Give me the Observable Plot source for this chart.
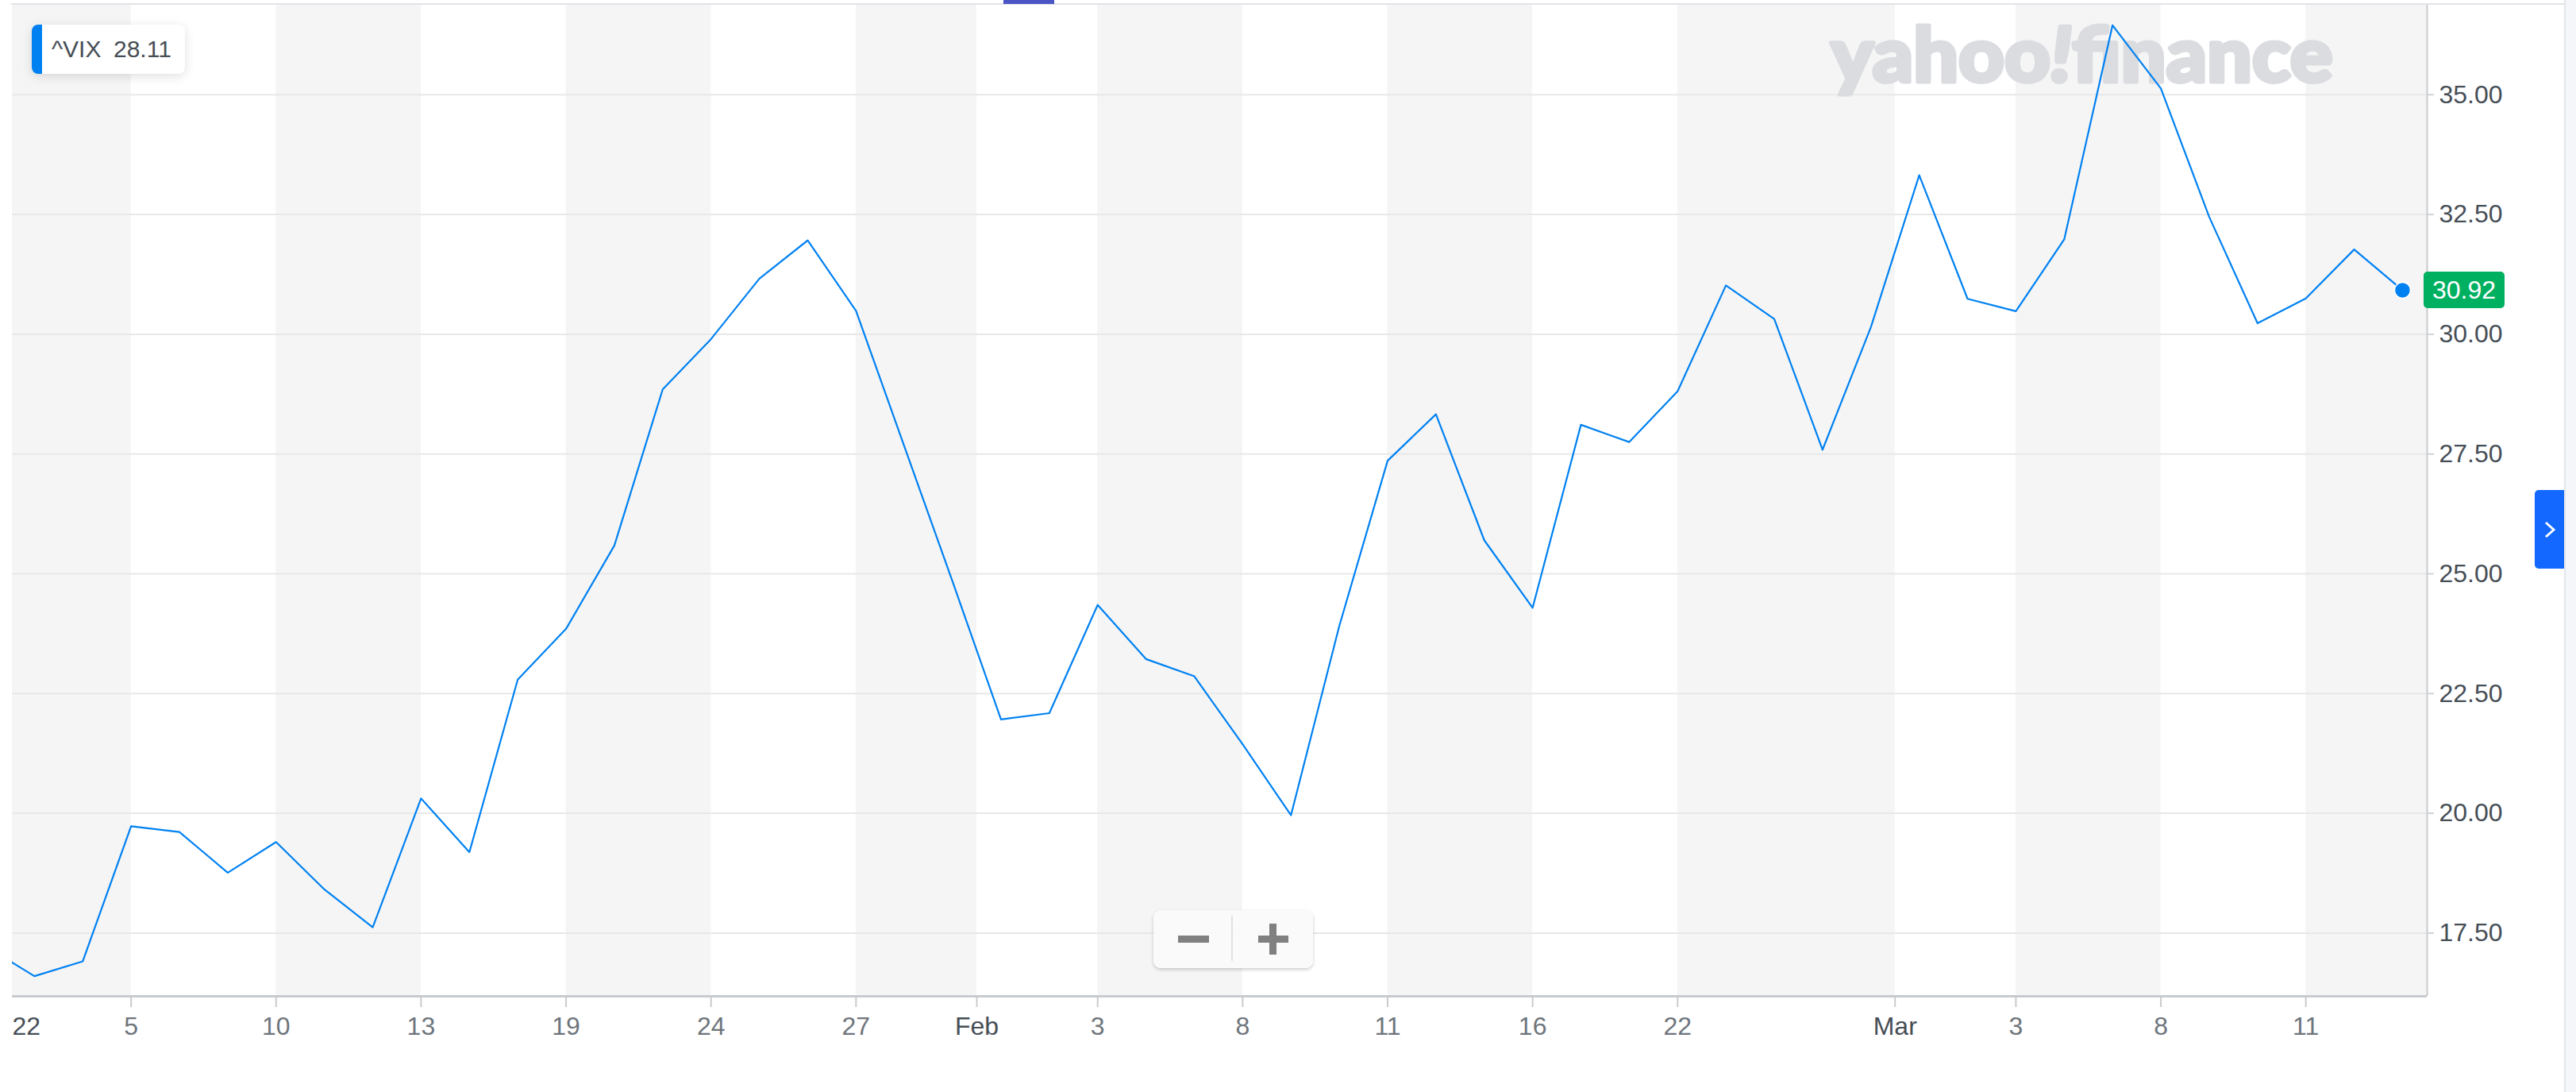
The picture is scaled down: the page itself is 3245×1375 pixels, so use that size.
<!DOCTYPE html>
<html>
<head>
<meta charset="utf-8">
<script src="https://cdn.jsdelivr.net/npm/d3@7"></script>
<script src="https://cdn.jsdelivr.net/npm/@observablehq/plot@0.6"></script>
<style>
html, body { margin: 0; padding: 0; background: #fff; }
#wrap { position: relative; width: 3245px; height: 1375px; overflow: hidden; font-family: "Liberation Sans", Arial, sans-serif; }
#wrap svg { position: absolute; left: 0; top: 0; }
.ov { position: absolute; }
#topline { left: 14px; top: 4px; width: 3231px; height: 2px; background: #e1e3e7; }
#tab { left: 1264px; top: 0; width: 64px; height: 5px; background: #4a54c4; }
#panel { left: 3230px; top: 0; width: 15px; height: 1375px; background: #f4f6f9; border-left: 2px solid #e3e6ea; box-sizing: border-box; }
#btn { left: 3193px; top: 617px; width: 37px; height: 99px; background: #1268ff; border-radius: 5px 0 0 5px; }
#legend { left: 40px; top: 31px; width: 193px; height: 62px; background: #fff; border-radius: 8px; box-shadow: 0 3px 14px rgba(0,0,0,0.13); overflow: hidden; }
#legend .bar { position: absolute; left: 0; top: 0; width: 13px; height: 62px; background: #0081f2; }
#legend .sym, #legend .val { position: absolute; top: 0; line-height: 62px; font-size: 30px; color: #464e56; }
#legend .sym { left: 25px; }
#legend .val { left: 103px; }
#zoom { left: 1453px; top: 1146px; width: 201px; height: 73px; background: rgba(250,250,250,0.92); border-radius: 9px; box-shadow: 0 2px 4px rgba(0,0,0,0.2); }
#zoom div { position: absolute; background: #808080; }
#badge { left: 3053px; width: 102px; height: 46px; background: #00b061; border-radius: 5px; color: #fff; font-size: 32px; line-height: 46px; text-align: center; }
</style>
</head>
<body>
<div id="wrap"></div>
<script>
// ---- data ----
const dates = [
  "2021-12-31","2022-01-03","2022-01-04","2022-01-05","2022-01-06","2022-01-07",
  "2022-01-10","2022-01-11","2022-01-12","2022-01-13","2022-01-14","2022-01-18",
  "2022-01-19","2022-01-20","2022-01-21","2022-01-24","2022-01-25","2022-01-26",
  "2022-01-27","2022-01-28","2022-01-31","2022-02-01","2022-02-02","2022-02-03",
  "2022-02-04","2022-02-07","2022-02-08","2022-02-09","2022-02-10","2022-02-11",
  "2022-02-14","2022-02-15","2022-02-16","2022-02-17","2022-02-18","2022-02-22",
  "2022-02-23","2022-02-24","2022-02-25","2022-02-28","2022-03-01","2022-03-02",
  "2022-03-03","2022-03-04","2022-03-07","2022-03-08","2022-03-09","2022-03-10",
  "2022-03-11","2022-03-14","2022-03-15"
];
const vix = [
  17.22, 16.60, 16.91, 19.73, 19.61, 18.76,
  19.40, 18.41, 17.62, 20.31, 19.19, 22.79,
  23.85, 25.59, 28.85, 29.90, 31.16, 31.96,
  30.49, 27.66, 24.83, 21.96, 22.09, 24.35,
  23.22, 22.86, 21.44, 19.96, 23.91, 27.36,
  28.33, 25.70, 24.29, 28.11, 27.75, 28.81,
  31.02, 30.32, 27.59, 30.15, 33.32, 30.74,
  30.48, 31.98, 36.45, 35.13, 32.45, 30.23,
  30.75, 31.77, 30.92
];
// x tick positions are trading-day indices (month/year labels sit between days)
const tickPos    = [0.5, 3, 6, 9, 12, 15, 18, 20.5, 23, 26, 29, 32, 35, 39.5, 42, 45, 48];
const tickLabels = ["22","5","10","13","19","24","27","Feb","3","8","11","16","22","Mar","3","8","11"];
const tickKinds  = ["year","day","day","day","day","day","day","month","day","day","day","day","day","month","day","day","day"];
const yTicks = [17.5, 20, 22.5, 25, 27.5, 30, 32.5, 35];
const xDomain = [0.542, 50.51];
const yDomain = [16.18, 36.87];
const seriesName = "^VIX";
const hoverDate = "2022-02-17";
const watermark = "yahoo!finance";

// ---- derived tables ----
const data = vix.map((v, i) => ({i, v, date: dates[i]}));
const last = data[data.length - 1];
const labelOf = new Map(tickPos.map((p, k) => [p, tickLabels[k]]));
const dayTicks = tickPos.filter((p, k) => tickKinds[k] === "day");
const monthTicks = tickPos.filter((p, k) => tickKinds[k] === "month");
const yearTicks = tickPos.filter((p, k) => tickKinds[k] === "year");
const bounds = [xDomain[0], ...tickPos.filter(p => p > xDomain[0]), xDomain[1]];
const bands = [];
for (let k = 0; k < bounds.length - 1; k += 2) bands.push({x1: bounds[k], x2: bounds[k + 1]});

const font = "'Liberation Sans', Arial, sans-serif";
const chart = Plot.plot({
  width: 3245,
  height: 1375,
  marginLeft: 15,
  marginRight: 188,
  marginTop: 6,
  marginBottom: 121,
  style: {fontFamily: font, fontSize: "32px", background: "transparent", overflow: "visible"},
  x: {type: "linear", domain: xDomain},
  y: {type: "linear", domain: yDomain},
  marks: [
    Plot.rect(bands, {x1: "x1", x2: "x2", fill: "#f5f5f5"}),
    Plot.gridY(yTicks, {stroke: "#e8e8e8", strokeOpacity: 1, strokeWidth: 2}),
    Plot.text([watermark], {
      text: d => d, frameAnchor: "top-right", dx: -119, dy: 66,
      textAnchor: "end", lineAnchor: "middle",
      fill: "#dadce0", stroke: "#dadce0", strokeWidth: 5, strokeLinejoin: "round",
      fontSize: 96, fontWeight: 900, fontFamily: "Lato, 'Open Sans', sans-serif"
    }),
    Plot.line(data, {x: "i", y: "v", stroke: "#0081f2", strokeWidth: 2.2, clip: true}),
    Plot.ruleY([yDomain[0]], {stroke: "#c8cbce", strokeWidth: 3}),
    Plot.ruleX([xDomain[1]], {stroke: "#c8cbce", strokeWidth: 2}),
    Plot.dot([last], {x: "i", y: "v", r: 10, fill: "#0081f2", stroke: "#fff", strokeWidth: 1.5}),
    Plot.axisY(yTicks, {
      anchor: "right", tickSize: 8, tickPadding: 7, tickFormat: d3.format(".2f"),
      fill: "#464e56", stroke: "#d0d3d6", strokeWidth: 2, label: null
    }),
    Plot.axisX(dayTicks, {
      anchor: "bottom", tickSize: 14, tickPadding: 12, tickFormat: d => labelOf.get(d),
      fill: "#6e757c", stroke: "#c8cbce", strokeWidth: 2, label: null
    }),
    Plot.axisX(monthTicks, {
      anchor: "bottom", tickSize: 14, tickPadding: 12, tickFormat: d => labelOf.get(d),
      fill: "#464e56", stroke: "#c8cbce", strokeWidth: 2, label: null
    }),
    Plot.axisX(yearTicks.map(p => Math.max(p, xDomain[0])), {
      anchor: "bottom", tickSize: 0, tickPadding: 26, textAnchor: "start",
      tickFormat: () => tickLabels[tickKinds.indexOf("year")],
      fill: "#464e56", label: null
    })
  ]
});

const wrap = document.getElementById("wrap");
wrap.appendChild(chart);

// stretch the watermark to the logo width; slant the "!"
for (const t of chart.querySelectorAll("text")) {
  if (t.textContent === watermark) {
    const k = watermark.indexOf("!");
    t.textContent = "";
    const parts = [[watermark.slice(0, k), null], ["!", "italic"], [watermark.slice(k + 1), null]];
    for (const [s, st] of parts) {
      const sp = document.createElementNS("http://www.w3.org/2000/svg", "tspan");
      sp.textContent = s;
      if (st) sp.setAttribute("font-style", st);
      t.appendChild(sp);
    }
    t.setAttribute("textLength", "632");
    t.setAttribute("lengthAdjust", "spacingAndGlyphs");
  }
}

function ov(id, html) {
  const d = document.createElement("div");
  d.className = "ov"; d.id = id;
  if (html) d.innerHTML = html;
  wrap.appendChild(d);
  return d;
}
ov("topline");
ov("tab");
ov("panel");
ov("btn", '<svg width="37" height="99" style="position:absolute;left:0;top:0"><polyline points="14,41 24,50 14,59" fill="none" stroke="#fff" stroke-width="3"/></svg>');

const hv = data.find(d => d.date === hoverDate).v;
ov("legend", '<div class="bar"></div><span class="sym">' + seriesName + '</span><span class="val">' + hv.toFixed(2) + '</span>');

ov("zoom",
  '<div style="left:98px;top:7px;width:2px;height:57px;background:#e2e2e2"></div>' +
  '<div style="left:31px;top:32px;width:39px;height:9px"></div>' +
  '<div style="left:132px;top:32px;width:38px;height:9px"></div>' +
  '<div style="left:146px;top:17px;width:9px;height:39px"></div>');

const yPix = chart.scale("y").apply(last.v);
const badge = ov("badge", last.v.toFixed(2));
badge.style.top = (yPix - 23) + "px";
</script>
</body>
</html>
